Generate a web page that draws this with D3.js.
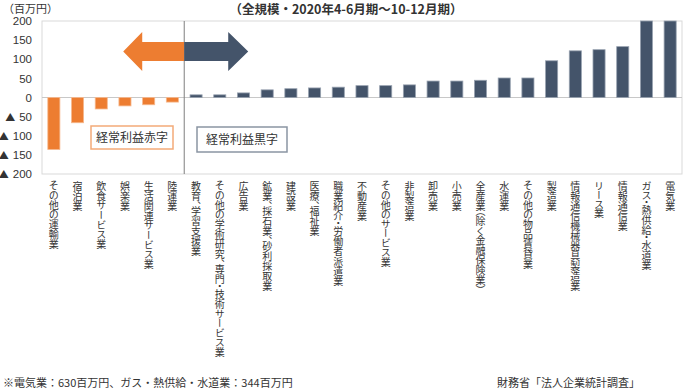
<!DOCTYPE html>
<html lang="ja">
<head>
<meta charset="UTF-8">
<title>経常利益の増減（業種別）</title>
<script src="https://cdn.jsdelivr.net/npm/d3@7"></script>
<style>
  body { margin: 0; background: #fff; }
  svg text { font-family: "Noto Sans CJK JP", "Noto Sans", sans-serif; fill: #333; }
</style>
</head>
<body>
<div id="chart"></div>
<script>
// 業種（左：赤字、右：黒字）
const categories = [
  "その他の運輸業", "宿泊業", "飲食サービス業", "娯楽業", "生活関連サービス業", "陸運業",
  "教育、学習支援業", "その他の学術研究、専門・技術サービス業", "広告業",
  "鉱業、採石業、砂利採取業", "建設業", "医療、福祉業", "職業紹介・労働者派遣業",
  "不動産業", "その他のサービス業", "非製造業", "卸売業", "小売業",
  "全産業（除く金融保険業）", "水運業", "その他の物品賃貸業", "製造業",
  "情報通信機械器具製造業", "リース業", "情報通信業", "ガス・熱供給・水道業", "電気業"
];
// 経常利益の増減（百万円）
const values = [
  -136, -66, -30, -22, -19, -12,
  7, 7, 12, 20, 23, 25, 27, 31, 31, 33, 43, 43, 45, 51, 51, 96,
  122, 125, 133, 344, 630
];
const yTicks = [200, 150, 100, 50, 0, -50, -100, -150, -200];

const W = 684, H = 390;
const m = { left: 42, right: 2, top: 21, bottom: 216 };

const svg = d3.select("#chart").append("svg")
  .attr("width", W).attr("height", H);

const x = d3.scaleBand().domain(categories)
  .range([m.left, W - m.right]).paddingInner(0.49).paddingOuter(0.245);
const y = d3.scaleLinear().domain([-200, 200])
  .range([H - m.bottom, m.top]).clamp(true);

// frame
svg.append("rect")
  .attr("x", m.left).attr("y", y(200))
  .attr("width", W - m.right - m.left).attr("height", y(-200) - y(200))
  .attr("fill", "none").attr("stroke", "#d9d9d9");

// y axis labels
const yAxis = svg.append("g")
  .attr("transform", `translate(${m.left - 10},0)`)
  .call(d3.axisLeft(y).tickValues(yTicks).tickSize(0).tickFormat(""));
yAxis.select(".domain").remove();
yAxis.selectAll(".tick text").each(function(d) {
  const t = d3.select(this)
    .style("font-family", "Liberation Sans, Arial, sans-serif")
    .style("font-size", "11.5px").attr("fill", "#222").attr("x", 0);
  if (d < 0) {
    t.append("tspan").style("font-family", "Noto Sans CJK JP")
      .style("font-size", "10px").text("▲");
    t.append("tspan").attr("dx", 4).text(-d);
  } else {
    t.text(d);
  }
});

// zero line
svg.append("line")
  .attr("x1", m.left).attr("x2", W - m.right)
  .attr("y1", y(0)).attr("y2", y(0))
  .attr("stroke", "#c8c8c8");

// bars
svg.selectAll("rect.bar")
  .data(values)
  .join("rect")
  .attr("class", "bar")
  .attr("x", (d, i) => x(categories[i]))
  .attr("width", x.bandwidth())
  .attr("y", d => y(Math.max(d, 0)))
  .attr("height", d => Math.abs(y(d) - y(0)))
  .attr("fill", d => d < 0 ? "#ED7D31" : "#44546A")
  .attr("stroke", d => d < 0 ? "#f6b98f" : "#98a2b0")
  .attr("stroke-width", 0.8);

// divider between deficit and surplus
const xDiv = x(categories[6]) - x.step() * x.paddingInner() / 2;
svg.append("line")
  .attr("x1", xDiv).attr("x2", xDiv)
  .attr("y1", y(200)).attr("y2", y(-200))
  .attr("stroke", "#7f7f7f");

// arrows
const bodyTop = 42, bodyBot = 61, headTop = 32, headBot = 71;
svg.append("path")
  .attr("d", `M${xDiv},${bodyTop} L${xDiv - 42},${bodyTop} L${xDiv - 42},${headTop}
    L${xDiv - 61},${(headTop + headBot) / 2} L${xDiv - 42},${headBot}
    L${xDiv - 42},${bodyBot} L${xDiv},${bodyBot} Z`)
  .attr("fill", "#ED7D31");
svg.append("path")
  .attr("d", `M${xDiv},${bodyTop} L${xDiv + 44},${bodyTop} L${xDiv + 44},${headTop}
    L${xDiv + 64},${(headTop + headBot) / 2} L${xDiv + 44},${headBot}
    L${xDiv + 44},${bodyBot} L${xDiv},${bodyBot} Z`)
  .attr("fill", "#44546A");

// label boxes
function labelBox(x0, y0, w, h, stroke, txt) {
  svg.append("rect").attr("x", x0).attr("y", y0).attr("width", w).attr("height", h)
    .attr("fill", "#fff").attr("stroke", stroke).attr("stroke-width", 1.5);
  svg.append("text").attr("x", x0 + w / 2).attr("y", y0 + h / 2 + 4.5)
    .attr("text-anchor", "middle").style("font-size", "12px").text(txt);
}
labelBox(91, 126, 82, 23, "#f3aa78", "経常利益赤字");
labelBox(197, 127, 90, 25, "#8a95a3", "経常利益黒字");

// category labels (vertical)
svg.selectAll("text.cat")
  .data(categories)
  .join("text")
  .attr("class", "cat")
  .attr("x", d => x(d) + x.bandwidth() / 2)
  .attr("y", 181)
  .style("writing-mode", "vertical-rl")
  .style("font-feature-settings", '"vpal"')
  .style("font-size", "10px")
  .attr("fill", "#333")
  .text(d => d);

// titles and notes
svg.append("text").attr("x", 3).attr("y", 13)
  .style("font-size", "11px").attr("fill", "#444").text("（百万円）");
svg.append("text").attr("x", 346).attr("y", 14).attr("text-anchor", "middle")
  .style("font-size", "12.5px").style("font-weight", "bold").attr("fill", "#222")
  .text("（全規模・2020年4-6月期～10-12月期）");
svg.append("text").attr("x", 3).attr("y", 387)
  .style("font-size", "11px")
  .text("※電気業：630百万円、ガス・熱供給・水道業：344百万円");
svg.append("text").attr("x", 497).attr("y", 387)
  .style("font-size", "11px")
  .text("財務省「法人企業統計調査」");
</script>
</body>
</html>
